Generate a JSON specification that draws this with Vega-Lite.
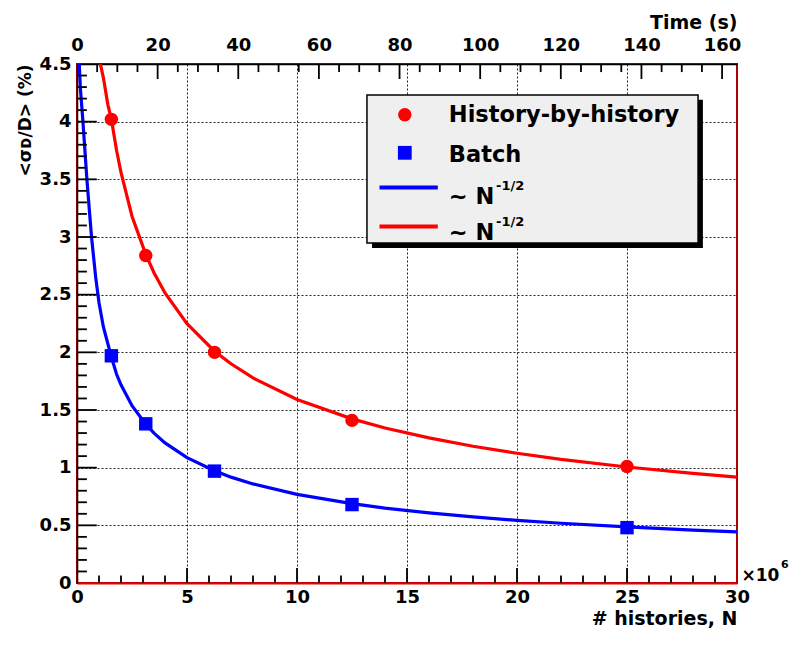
{
  "$schema": "https://vega.github.io/schema/vega-lite/v6.json",
  "width": 660,
  "height": 519,
  "autosize": {"type": "none"},
  "padding": {"left": 77, "top": 64, "right": 63, "bottom": 65},
  "background": "white",
  "config": {
    "view": {"stroke": "#b00000", "strokeWidth": 2},
    "font": "DejaVu Sans",
    "axis": {
      "labelFont": "DejaVu Sans", "labelFontWeight": "bold", "labelFontSize": 18, "labelColor": "black",
      "titleFont": "DejaVu Sans", "titleFontWeight": "bold", "titleFontSize": 19, "titleColor": "black",
      "domainColor": "black"
    },
    "text": {"font": "DejaVu Sans", "fontWeight": "bold", "color": "black"}
  },
  "datasets": {
    "pts": [
      {"N": 1.5625, "y": 4.02, "s": "red"},
      {"N": 3.125, "y": 2.84, "s": "red"},
      {"N": 6.25, "y": 2.0, "s": "red"},
      {"N": 12.5, "y": 1.41, "s": "red"},
      {"N": 25, "y": 1.01, "s": "red"},
      {"N": 1.5625, "y": 1.97, "s": "blue"},
      {"N": 3.125, "y": 1.38, "s": "blue"},
      {"N": 6.25, "y": 0.97, "s": "blue"},
      {"N": 12.5, "y": 0.68, "s": "blue"},
      {"N": 25, "y": 0.48, "s": "blue"}
    ],
    "curves": [
      {"N": 0.95, "y": 4.6, "s": "red"},
      {"N": 1.2, "y": 4.38, "s": "red"},
      {"N": 1.4, "y": 4.15, "s": "red"},
      {"N": 1.5625, "y": 4.02, "s": "red"},
      {"N": 1.8, "y": 3.75, "s": "red"},
      {"N": 2.0, "y": 3.56, "s": "red"},
      {"N": 2.5, "y": 3.18, "s": "red"},
      {"N": 3.125, "y": 2.85, "s": "red"},
      {"N": 3.5, "y": 2.69, "s": "red"},
      {"N": 4, "y": 2.515, "s": "red"},
      {"N": 5, "y": 2.249, "s": "red"},
      {"N": 6.25, "y": 2.01, "s": "red"},
      {"N": 7, "y": 1.901, "s": "red"},
      {"N": 8, "y": 1.778, "s": "red"},
      {"N": 10, "y": 1.591, "s": "red"},
      {"N": 12.5, "y": 1.423, "s": "red"},
      {"N": 14, "y": 1.344, "s": "red"},
      {"N": 16, "y": 1.258, "s": "red"},
      {"N": 18, "y": 1.186, "s": "red"},
      {"N": 20, "y": 1.125, "s": "red"},
      {"N": 22, "y": 1.072, "s": "red"},
      {"N": 25, "y": 1.006, "s": "red"},
      {"N": 28, "y": 0.951, "s": "red"},
      {"N": 30, "y": 0.918, "s": "red"},
      {"N": 0.08, "y": 4.6, "s": "blue"},
      {"N": 0.15, "y": 4.3, "s": "blue"},
      {"N": 0.27, "y": 4.0, "s": "blue"},
      {"N": 0.45, "y": 3.5, "s": "blue"},
      {"N": 0.66, "y": 3.0, "s": "blue"},
      {"N": 0.85, "y": 2.65, "s": "blue"},
      {"N": 1.0, "y": 2.43, "s": "blue"},
      {"N": 1.2, "y": 2.22, "s": "blue"},
      {"N": 1.5625, "y": 1.96, "s": "blue"},
      {"N": 1.8, "y": 1.81, "s": "blue"},
      {"N": 2.0, "y": 1.718, "s": "blue"},
      {"N": 2.5, "y": 1.537, "s": "blue"},
      {"N": 3.125, "y": 1.376, "s": "blue"},
      {"N": 3.5, "y": 1.299, "s": "blue"},
      {"N": 4, "y": 1.215, "s": "blue"},
      {"N": 5, "y": 1.087, "s": "blue"},
      {"N": 6.25, "y": 0.974, "s": "blue"},
      {"N": 7, "y": 0.918, "s": "blue"},
      {"N": 8, "y": 0.859, "s": "blue"},
      {"N": 10, "y": 0.768, "s": "blue"},
      {"N": 12.5, "y": 0.688, "s": "blue"},
      {"N": 14, "y": 0.649, "s": "blue"},
      {"N": 16, "y": 0.608, "s": "blue"},
      {"N": 18, "y": 0.573, "s": "blue"},
      {"N": 20, "y": 0.543, "s": "blue"},
      {"N": 22, "y": 0.518, "s": "blue"},
      {"N": 25, "y": 0.486, "s": "blue"},
      {"N": 28, "y": 0.459, "s": "blue"},
      {"N": 30, "y": 0.444, "s": "blue"}
    ],
    "time": [{"t": 0}, {"t": 160}],
    "xticks": [
      {"v": 1, "lo": 0, "hi": 0.065}, {"v": 2, "lo": 0, "hi": 0.065}, {"v": 3, "lo": 0, "hi": 0.065}, {"v": 4, "lo": 0, "hi": 0.065},
      {"v": 5, "lo": 0, "hi": 0.13},
      {"v": 6, "lo": 0, "hi": 0.065}, {"v": 7, "lo": 0, "hi": 0.065}, {"v": 8, "lo": 0, "hi": 0.065}, {"v": 9, "lo": 0, "hi": 0.065},
      {"v": 10, "lo": 0, "hi": 0.13},
      {"v": 11, "lo": 0, "hi": 0.065}, {"v": 12, "lo": 0, "hi": 0.065}, {"v": 13, "lo": 0, "hi": 0.065}, {"v": 14, "lo": 0, "hi": 0.065},
      {"v": 15, "lo": 0, "hi": 0.13},
      {"v": 16, "lo": 0, "hi": 0.065}, {"v": 17, "lo": 0, "hi": 0.065}, {"v": 18, "lo": 0, "hi": 0.065}, {"v": 19, "lo": 0, "hi": 0.065},
      {"v": 20, "lo": 0, "hi": 0.13},
      {"v": 21, "lo": 0, "hi": 0.065}, {"v": 22, "lo": 0, "hi": 0.065}, {"v": 23, "lo": 0, "hi": 0.065}, {"v": 24, "lo": 0, "hi": 0.065},
      {"v": 25, "lo": 0, "hi": 0.13},
      {"v": 26, "lo": 0, "hi": 0.065}, {"v": 27, "lo": 0, "hi": 0.065}, {"v": 28, "lo": 0, "hi": 0.065}, {"v": 29, "lo": 0, "hi": 0.065}
    ],
    "yticks": [
      {"v": 0.1, "lo": 0, "hi": 0.45}, {"v": 0.2, "lo": 0, "hi": 0.45}, {"v": 0.3, "lo": 0, "hi": 0.45}, {"v": 0.4, "lo": 0, "hi": 0.45},
      {"v": 0.5, "lo": 0, "hi": 0.9},
      {"v": 0.6, "lo": 0, "hi": 0.45}, {"v": 0.7, "lo": 0, "hi": 0.45}, {"v": 0.8, "lo": 0, "hi": 0.45}, {"v": 0.9, "lo": 0, "hi": 0.45},
      {"v": 1.0, "lo": 0, "hi": 0.9},
      {"v": 1.1, "lo": 0, "hi": 0.45}, {"v": 1.2, "lo": 0, "hi": 0.45}, {"v": 1.3, "lo": 0, "hi": 0.45}, {"v": 1.4, "lo": 0, "hi": 0.45},
      {"v": 1.5, "lo": 0, "hi": 0.9},
      {"v": 1.6, "lo": 0, "hi": 0.45}, {"v": 1.7, "lo": 0, "hi": 0.45}, {"v": 1.8, "lo": 0, "hi": 0.45}, {"v": 1.9, "lo": 0, "hi": 0.45},
      {"v": 2.0, "lo": 0, "hi": 0.9},
      {"v": 2.1, "lo": 0, "hi": 0.45}, {"v": 2.2, "lo": 0, "hi": 0.45}, {"v": 2.3, "lo": 0, "hi": 0.45}, {"v": 2.4, "lo": 0, "hi": 0.45},
      {"v": 2.5, "lo": 0, "hi": 0.9},
      {"v": 2.6, "lo": 0, "hi": 0.45}, {"v": 2.7, "lo": 0, "hi": 0.45}, {"v": 2.8, "lo": 0, "hi": 0.45}, {"v": 2.9, "lo": 0, "hi": 0.45},
      {"v": 3.0, "lo": 0, "hi": 0.9},
      {"v": 3.1, "lo": 0, "hi": 0.45}, {"v": 3.2, "lo": 0, "hi": 0.45}, {"v": 3.3, "lo": 0, "hi": 0.45}, {"v": 3.4, "lo": 0, "hi": 0.45},
      {"v": 3.5, "lo": 0, "hi": 0.9},
      {"v": 3.6, "lo": 0, "hi": 0.45}, {"v": 3.7, "lo": 0, "hi": 0.45}, {"v": 3.8, "lo": 0, "hi": 0.45}, {"v": 3.9, "lo": 0, "hi": 0.45},
      {"v": 4.0, "lo": 0, "hi": 0.9},
      {"v": 4.1, "lo": 0, "hi": 0.45}, {"v": 4.2, "lo": 0, "hi": 0.45}, {"v": 4.3, "lo": 0, "hi": 0.45}, {"v": 4.4, "lo": 0, "hi": 0.45}
    ],
    "tticks": [
      {"v": 5, "lo": 4.5, "hi": 4.43}, {"v": 10, "lo": 4.5, "hi": 4.43}, {"v": 15, "lo": 4.5, "hi": 4.43}, {"v": 20, "lo": 4.5, "hi": 4.37},
      {"v": 25, "lo": 4.5, "hi": 4.43}, {"v": 30, "lo": 4.5, "hi": 4.43}, {"v": 35, "lo": 4.5, "hi": 4.43}, {"v": 40, "lo": 4.5, "hi": 4.37},
      {"v": 45, "lo": 4.5, "hi": 4.43}, {"v": 50, "lo": 4.5, "hi": 4.43}, {"v": 55, "lo": 4.5, "hi": 4.43}, {"v": 60, "lo": 4.5, "hi": 4.37},
      {"v": 65, "lo": 4.5, "hi": 4.43}, {"v": 70, "lo": 4.5, "hi": 4.43}, {"v": 75, "lo": 4.5, "hi": 4.43}, {"v": 80, "lo": 4.5, "hi": 4.37},
      {"v": 85, "lo": 4.5, "hi": 4.43}, {"v": 90, "lo": 4.5, "hi": 4.43}, {"v": 95, "lo": 4.5, "hi": 4.43}, {"v": 100, "lo": 4.5, "hi": 4.37},
      {"v": 105, "lo": 4.5, "hi": 4.43}, {"v": 110, "lo": 4.5, "hi": 4.43}, {"v": 115, "lo": 4.5, "hi": 4.43}, {"v": 120, "lo": 4.5, "hi": 4.37},
      {"v": 125, "lo": 4.5, "hi": 4.43}, {"v": 130, "lo": 4.5, "hi": 4.43}, {"v": 135, "lo": 4.5, "hi": 4.43}, {"v": 140, "lo": 4.5, "hi": 4.37},
      {"v": 145, "lo": 4.5, "hi": 4.43}, {"v": 150, "lo": 4.5, "hi": 4.43}, {"v": 155, "lo": 4.5, "hi": 4.43}, {"v": 160, "lo": 4.5, "hi": 4.37}
    ]
  },
  "resolve": {"scale": {"x": "independent"}, "axis": {"x": "independent", "y": "independent"}},
  "layer": [
    {
      "data": {"name": "pts"},
      "mark": {"type": "point", "opacity": 0},
      "encoding": {
        "x": {"field": "N", "type": "quantitative", "scale": {"domain": [0, 30], "nice": false, "zero": false},
          "axis": {"orient": "bottom", "values": [5, 10, 15, 20, 25], "labels": false, "domain": false, "ticks": false,
            "grid": true, "gridColor": "#222222", "gridDash": [2, 2], "gridWidth": 1, "title": null}},
        "y": {"field": "y", "type": "quantitative", "scale": {"domain": [0, 4.5], "nice": false, "zero": false},
          "axis": {"orient": "left", "values": [0.5, 1, 1.5, 2, 2.5, 3, 3.5, 4], "labels": false, "domain": false, "ticks": false,
            "grid": true, "gridColor": "#222222", "gridDash": [2, 2], "gridWidth": 1, "title": null}}
      }
    },
    {
      "data": {"name": "pts"},
      "mark": {"type": "point", "opacity": 0},
      "encoding": {
        "x": {"field": "N", "type": "quantitative", "scale": {"domain": [0, 30], "nice": false, "zero": false},
          "axis": {"orient": "bottom", "values": [0, 5, 10, 15, 20, 25, 30], "format": "~g", "ticks": false, "grid": false,
            "labelPadding": 5, "labelFlush": false, "domainColor": "#e00000", "domainWidth": 2,
            "title": "# histories, N", "titleAnchor": "end", "titleAlign": "right", "titlePadding": 3}},
        "y": {"field": "y", "type": "quantitative", "scale": {"domain": [0, 4.5], "nice": false, "zero": false},
          "axis": {"orient": "left", "values": [0, 0.5, 1, 1.5, 2, 2.5, 3, 3.5, 4, 4.5], "format": "~g", "ticks": false, "grid": false,
            "labelPadding": 6, "labelFlush": false, "domainColor": "black", "domainWidth": 1.5,
            "title": "<σᴅ/D> (%)", "titleFontSize": 17, "titleAnchor": "end", "titlePadding": 5}}
      }
    },
    {
      "data": {"name": "time"},
      "mark": {"type": "point", "opacity": 0},
      "encoding": {
        "x": {"field": "t", "type": "quantitative", "scale": {"domain": [0, 163.7], "nice": false, "zero": false},
          "axis": {"orient": "top", "values": [0, 20, 40, 60, 80, 100, 120, 140, 160], "format": "d", "ticks": false, "grid": false,
            "labelPadding": 10, "labelFlush": false, "domainColor": "black", "domainWidth": 1.5,
            "title": "Time (s)", "titleAnchor": "end", "titleAlign": "right", "titlePadding": 4}}
      }
    },
    {
      "data": {"name": "curves"},
      "mark": {"type": "line", "strokeWidth": 3.2, "clip": true},
      "encoding": {
        "x": {"field": "N", "type": "quantitative", "scale": {"domain": [0, 30], "nice": false, "zero": false}, "axis": null},
        "y": {"field": "y", "type": "quantitative", "scale": {"domain": [0, 4.5], "nice": false, "zero": false}, "axis": null},
        "color": {"field": "s", "type": "nominal", "scale": {"domain": ["red", "blue"], "range": ["#ff0000", "#0000ff"]}, "legend": null}
      }
    },
    {
      "data": {"name": "pts"},
      "mark": {"type": "point", "filled": true, "opacity": 1, "size": 180},
      "encoding": {
        "x": {"field": "N", "type": "quantitative", "scale": {"domain": [0, 30], "nice": false, "zero": false}, "axis": null},
        "y": {"field": "y", "type": "quantitative", "scale": {"domain": [0, 4.5], "nice": false, "zero": false}, "axis": null},
        "color": {"field": "s", "type": "nominal", "scale": {"domain": ["red", "blue"], "range": ["#ff0000", "#0000ff"]}, "legend": null},
        "shape": {"field": "s", "type": "nominal", "scale": {"domain": ["red", "blue"], "range": ["circle", "square"]}, "legend": null}
      }
    },
    {
      "data": {"values": [{}]},
      "mark": {"type": "rect", "fill": "black"},
      "encoding": {
        "x": {"datum": 13.41, "type": "quantitative", "scale": {"domain": [0, 30], "nice": false, "zero": false}, "axis": null},
        "x2": {"datum": 28.45},
        "y": {"datum": 4.19, "type": "quantitative", "scale": {"domain": [0, 4.5], "nice": false, "zero": false}, "axis": null},
        "y2": {"datum": 2.905}
      }
    },
    {
      "data": {"values": [{}]},
      "mark": {"type": "rect", "fill": "#efefef", "stroke": "black", "strokeWidth": 1.5},
      "encoding": {
        "x": {"datum": 13.18, "type": "quantitative", "scale": {"domain": [0, 30], "nice": false, "zero": false}, "axis": null},
        "x2": {"datum": 28.23},
        "y": {"datum": 4.232, "type": "quantitative", "scale": {"domain": [0, 4.5], "nice": false, "zero": false}, "axis": null},
        "y2": {"datum": 2.949}
      }
    },
    {
      "data": {"values": [{}]},
      "mark": {"type": "point", "filled": true, "opacity": 1, "shape": "circle", "size": 180, "color": "#ff0000"},
      "encoding": {
        "x": {"datum": 14.9, "type": "quantitative", "scale": {"domain": [0, 30], "nice": false, "zero": false}, "axis": null},
        "y": {"datum": 4.06, "type": "quantitative", "scale": {"domain": [0, 4.5], "nice": false, "zero": false}, "axis": null}
      }
    },
    {
      "data": {"values": [{}]},
      "mark": {"type": "point", "filled": true, "opacity": 1, "shape": "square", "size": 190, "color": "#0000ff"},
      "encoding": {
        "x": {"datum": 14.9, "type": "quantitative", "scale": {"domain": [0, 30], "nice": false, "zero": false}, "axis": null},
        "y": {"datum": 3.73, "type": "quantitative", "scale": {"domain": [0, 4.5], "nice": false, "zero": false}, "axis": null}
      }
    },
    {
      "data": {"values": [{}]},
      "mark": {"type": "rule", "color": "#0000ff", "strokeWidth": 4},
      "encoding": {
        "x": {"datum": 13.75, "type": "quantitative", "scale": {"domain": [0, 30], "nice": false, "zero": false}, "axis": null},
        "x2": {"datum": 16.4},
        "y": {"datum": 3.43, "type": "quantitative", "scale": {"domain": [0, 4.5], "nice": false, "zero": false}, "axis": null}
      }
    },
    {
      "data": {"values": [{}]},
      "mark": {"type": "rule", "color": "#ff0000", "strokeWidth": 4},
      "encoding": {
        "x": {"datum": 13.75, "type": "quantitative", "scale": {"domain": [0, 30], "nice": false, "zero": false}, "axis": null},
        "x2": {"datum": 16.4},
        "y": {"datum": 3.09, "type": "quantitative", "scale": {"domain": [0, 4.5], "nice": false, "zero": false}, "axis": null}
      }
    },
    {
      "data": {"values": [{}]},
      "mark": {"type": "text", "align": "left", "baseline": "middle", "fontSize": 22.5, "text": "History-by-history"},
      "encoding": {
        "x": {"datum": 16.9, "type": "quantitative", "scale": {"domain": [0, 30], "nice": false, "zero": false}, "axis": null},
        "y": {"datum": 4.06, "type": "quantitative", "scale": {"domain": [0, 4.5], "nice": false, "zero": false}, "axis": null}
      }
    },
    {
      "data": {"values": [{}]},
      "mark": {"type": "text", "align": "left", "baseline": "middle", "fontSize": 22.5, "text": "Batch"},
      "encoding": {
        "x": {"datum": 16.9, "type": "quantitative", "scale": {"domain": [0, 30], "nice": false, "zero": false}, "axis": null},
        "y": {"datum": 3.71, "type": "quantitative", "scale": {"domain": [0, 4.5], "nice": false, "zero": false}, "axis": null}
      }
    },
    {
      "data": {"values": [{}]},
      "mark": {"type": "text", "align": "left", "baseline": "middle", "fontSize": 22.5, "text": "~ N"},
      "encoding": {
        "x": {"datum": 16.9, "type": "quantitative", "scale": {"domain": [0, 30], "nice": false, "zero": false}, "axis": null},
        "y": {"datum": 3.35, "type": "quantitative", "scale": {"domain": [0, 4.5], "nice": false, "zero": false}, "axis": null}
      }
    },
    {
      "data": {"values": [{}]},
      "mark": {"type": "text", "align": "left", "baseline": "middle", "fontSize": 13, "text": "-1/2"},
      "encoding": {
        "x": {"datum": 19.05, "type": "quantitative", "scale": {"domain": [0, 30], "nice": false, "zero": false}, "axis": null},
        "y": {"datum": 3.44, "type": "quantitative", "scale": {"domain": [0, 4.5], "nice": false, "zero": false}, "axis": null}
      }
    },
    {
      "data": {"values": [{}]},
      "mark": {"type": "text", "align": "left", "baseline": "middle", "fontSize": 22.5, "text": "~ N"},
      "encoding": {
        "x": {"datum": 16.9, "type": "quantitative", "scale": {"domain": [0, 30], "nice": false, "zero": false}, "axis": null},
        "y": {"datum": 3.035, "type": "quantitative", "scale": {"domain": [0, 4.5], "nice": false, "zero": false}, "axis": null}
      }
    },
    {
      "data": {"values": [{}]},
      "mark": {"type": "text", "align": "left", "baseline": "middle", "fontSize": 13, "text": "-1/2"},
      "encoding": {
        "x": {"datum": 19.05, "type": "quantitative", "scale": {"domain": [0, 30], "nice": false, "zero": false}, "axis": null},
        "y": {"datum": 3.13, "type": "quantitative", "scale": {"domain": [0, 4.5], "nice": false, "zero": false}, "axis": null}
      }
    },
    {
      "data": {"values": [{}]},
      "mark": {"type": "text", "align": "left", "baseline": "middle", "fontSize": 17, "text": "×10"},
      "encoding": {
        "x": {"datum": 30.2, "type": "quantitative", "scale": {"domain": [0, 30], "nice": false, "zero": false}, "axis": null},
        "y": {"datum": 0.06, "type": "quantitative", "scale": {"domain": [0, 4.5], "nice": false, "zero": false}, "axis": null}
      }
    },
    {
      "data": {"values": [{}]},
      "mark": {"type": "text", "align": "left", "baseline": "middle", "fontSize": 11, "text": "6"},
      "encoding": {
        "x": {"datum": 32.0, "type": "quantitative", "scale": {"domain": [0, 30], "nice": false, "zero": false}, "axis": null},
        "y": {"datum": 0.16, "type": "quantitative", "scale": {"domain": [0, 4.5], "nice": false, "zero": false}, "axis": null}
      }
    },
    {
      "data": {"name": "xticks"},
      "mark": {"type": "rule", "color": "#000000", "strokeWidth": 1.8},
      "encoding": {
        "x": {"field": "v", "type": "quantitative", "scale": {"domain": [0, 30], "nice": false, "zero": false}, "axis": null},
        "y": {"field": "lo", "type": "quantitative", "scale": {"domain": [0, 4.5], "nice": false, "zero": false}, "axis": null},
        "y2": {"field": "hi"}
      }
    },
    {
      "data": {"name": "yticks"},
      "mark": {"type": "rule", "color": "#000000", "strokeWidth": 1.8},
      "encoding": {
        "y": {"field": "v", "type": "quantitative", "scale": {"domain": [0, 4.5], "nice": false, "zero": false}, "axis": null},
        "x": {"field": "lo", "type": "quantitative", "scale": {"domain": [0, 30], "nice": false, "zero": false}, "axis": null},
        "x2": {"field": "hi"}
      }
    },
    {
      "data": {"name": "tticks"},
      "mark": {"type": "rule", "color": "#000000", "strokeWidth": 1.8},
      "encoding": {
        "x": {"field": "v", "type": "quantitative", "scale": {"domain": [0, 163.7], "nice": false, "zero": false}, "axis": null},
        "y": {"field": "lo", "type": "quantitative", "scale": {"domain": [0, 4.5], "nice": false, "zero": false}, "axis": null},
        "y2": {"field": "hi"}
      }
    }
  ]
}
